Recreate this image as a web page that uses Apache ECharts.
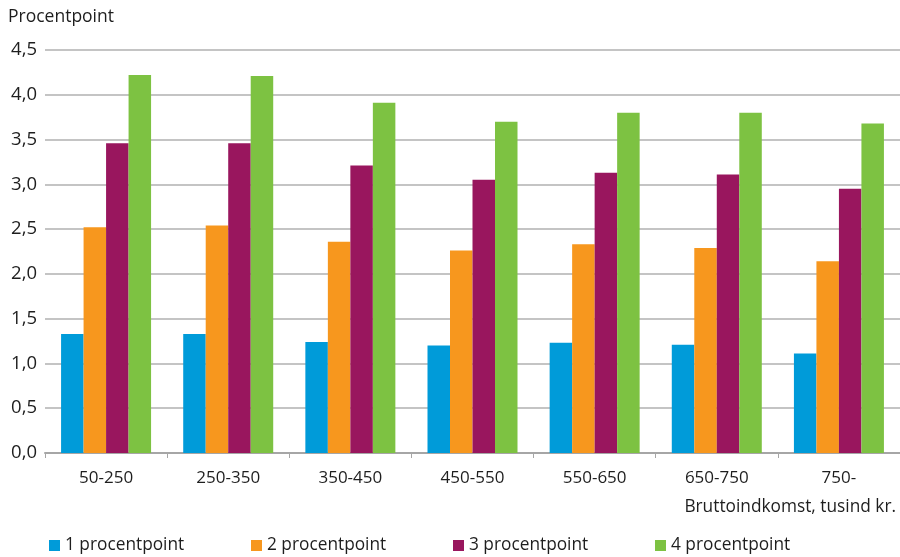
<!DOCTYPE html>
<html>
<head>
<meta charset="utf-8">
<script src="https://cdn.jsdelivr.net/npm/echarts@6/dist/echarts.min.js"></script>
<style>
  html, body { margin: 0; padding: 0; background: #fff; }
  #chart { width: 900px; height: 557px; }
</style>
</head>
<body>
<div id="chart"></div>
<script>
// Income brackets (thousand DKK) and the effect per percentage point
const categories = ['50-250', '250-350', '350-450', '450-550', '550-650', '650-750', '750-'];
const seriesNames = ['1 procentpoint', '2 procentpoint', '3 procentpoint', '4 procentpoint'];
const pp1 = [1.33, 1.33, 1.24, 1.20, 1.23, 1.21, 1.11];
const pp2 = [2.52, 2.54, 2.36, 2.26, 2.33, 2.29, 2.14];
const pp3 = [3.46, 3.46, 3.21, 3.05, 3.13, 3.11, 2.95];
const pp4 = [4.22, 4.21, 3.91, 3.70, 3.80, 3.80, 3.68];
const yTicks = { min: 0, max: 4.5, step: 0.5 };

const colors = ['#009bd9', '#f7971e', '#99165e', '#7dc242'];
const FONT = '"Open Sans", "Noto Sans", sans-serif';
const TEXT = '#1e1e1e';
const values = [pp1, pp2, pp3, pp4];

const chart = echarts.init(document.getElementById('chart'), null, { renderer: 'canvas' });

const legendX = [49, 251, 453, 655];

chart.setOption({
  animation: false,
  color: colors,
  textStyle: { fontFamily: FONT },
  title: {
    text: 'Procentpoint',
    left: 3, top: 3,
    textStyle: { fontFamily: FONT, fontSize: 17.5, fontWeight: 'normal', color: TEXT }
  },
  legend: seriesNames.map((n, i) => ({
    data: [n],
    left: legendX[i], top: 537,
    padding: 0,
    itemWidth: 11, itemHeight: 11, itemGap: 0,
    icon: 'rect',
    textStyle: { fontFamily: FONT, fontSize: 17.3, color: TEXT, padding: [0, 0, -1, 0] }
  })),
  grid: { left: 45, right: -2, top: 50, bottom: 104, containLabel: false },
  xAxis: {
    type: 'category',
    data: categories,
    name: 'Bruttoindkomst, tusind kr.',
    nameLocation: 'end',
    nameGap: 0,
    nameTextStyle: {
      fontFamily: FONT, fontSize: 17.3, color: TEXT,
      align: 'right', verticalAlign: 'top', padding: [46, 4, 0, 0]
    },
    axisLine: { lineStyle: { color: '#a6a6a6', width: 2 } },
    axisTick: { show: true, inside: false, length: 5, lineStyle: { color: '#a6a6a6', width: 1 } },
    axisLabel: { fontFamily: FONT, fontSize: 17, color: TEXT, margin: 17 }
  },
  yAxis: {
    type: 'value',
    min: yTicks.min, max: yTicks.max, interval: yTicks.step,
    axisLine: { show: false },
    axisTick: { show: false },
    axisLabel: {
      fontFamily: FONT, fontSize: 18.5, color: TEXT, margin: 8,
      formatter: v => v.toFixed(1).replace('.', ',')
    },
    splitLine: { lineStyle: { color: '#c4c4c4', width: 2 } }
  },
  series: seriesNames.map((n, i) => ({
    name: n,
    type: 'bar',
    data: values[i],
    barWidth: 22.5,
    barGap: '0%',
    barCategoryGap: '26%',
    itemStyle: { color: colors[i] }
  }))
});
</script>
</body>
</html>
